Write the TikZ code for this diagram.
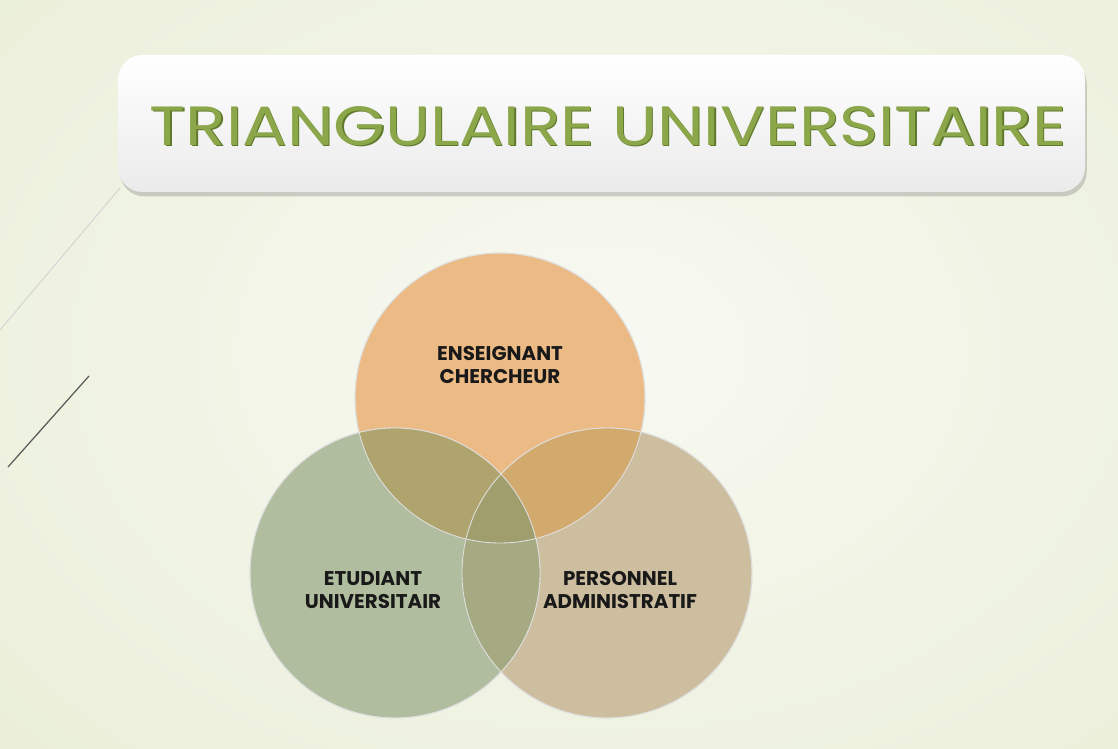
\documentclass[tikz,border=0pt]{standalone}
\usepackage{fontspec}
\newfontfamily\titrefont{Poppins}[FakeStretch=1.2]
\newfontfamily\cerclefont{Poppins}
\usetikzlibrary{shadows}

\definecolor{fondbord}{HTML}{E9EED6}
\definecolor{fondcentre}{HTML}{F8F9F2}
\definecolor{vertitre}{HTML}{8CA64A}
\definecolor{vertombre}{HTML}{5F7A2C}
\definecolor{orangeC}{HTML}{ECBB85}
\definecolor{vertC}{HTML}{B0BD9E}
\definecolor{tanC}{HTML}{CDBEA0}
\definecolor{lensOV}{HTML}{B0A46E}
\definecolor{lensOT}{HTML}{D2AA6E}
\definecolor{lensVT}{HTML}{A5AA82}
\definecolor{lensmid}{HTML}{A09E6C}

\tikzset{
  cercle/.style={circle, minimum size=5.8cm, inner sep=0pt, draw=white!75!gray, line width=0.5pt},
  etiquette/.style={font=\cerclefont\bfseries\fontsize{11.3}{13}\selectfont, align=center, text=black!90},
  titre/.style={font=\titrefont\fontsize{31.5}{36}\selectfont}
}

\begin{document}
\begin{tikzpicture}[x=0.02cm, y=-0.02cm]
  \useasboundingbox (0,0) rectangle (1118,749);
  \shade[inner color=fondcentre, outer color=fondbord] (-300,-300) rectangle (1500,1000);

  % traits decoratifs
  \draw[gray!35, line width=0.5pt] (0,330) -- (120,188);
  \draw[black!65, line width=0.7pt] (8,467) -- (89,376);

  % bandeau du titre
  \shade[top color=white, bottom color=black!8, rounded corners=14pt,
         drop shadow={opacity=0.35, shadow xshift=1pt, shadow yshift=-2.5pt}]
    (118,55) rectangle (1085,192);
  \node[titre, text=vertombre] at (609.5,127.5) {TRIANGULAIRE UNIVERSITAIRE};
  \node[titre, text=vertitre] (title) at (608,126) {TRIANGULAIRE UNIVERSITAIRE};

  % les trois cercles
  \node[cercle, fill=orangeC] (ens) at (500,398) {};
  \node[cercle, fill=tanC] (pers) at (607,573) {};
  \node[cercle, fill=vertC] (etu) at (395,573) {};

  \begin{scope}
    \clip (ens.center) circle[radius=145];
    \fill[lensOV] (etu.center) circle[radius=145];
    \fill[lensOT] (pers.center) circle[radius=145];
  \end{scope}
  \begin{scope}
    \clip (etu.center) circle[radius=145];
    \fill[lensVT] (pers.center) circle[radius=145];
    \clip (ens.center) circle[radius=145];
    \fill[lensmid] (pers.center) circle[radius=145];
  \end{scope}
  \foreach \c in {ens,pers,etu}
    \draw[white!75!gray, line width=0.5pt] (\c.center) circle[radius=145];

  \node[etiquette] (ensT) at ([yshift=0.66cm]ens.center) {ENSEIGNANT\\CHERCHEUR};
  \node[etiquette] (etuT) at ([xshift=-0.44cm, yshift=-0.34cm]etu.center) {ETUDIANT\\UNIVERSITAIR};
  \node[etiquette] (persT) at ([xshift=0.26cm, yshift=-0.34cm]pers.center) {PERSONNEL\\ADMINISTRATIF};
\end{tikzpicture}
\end{document}
